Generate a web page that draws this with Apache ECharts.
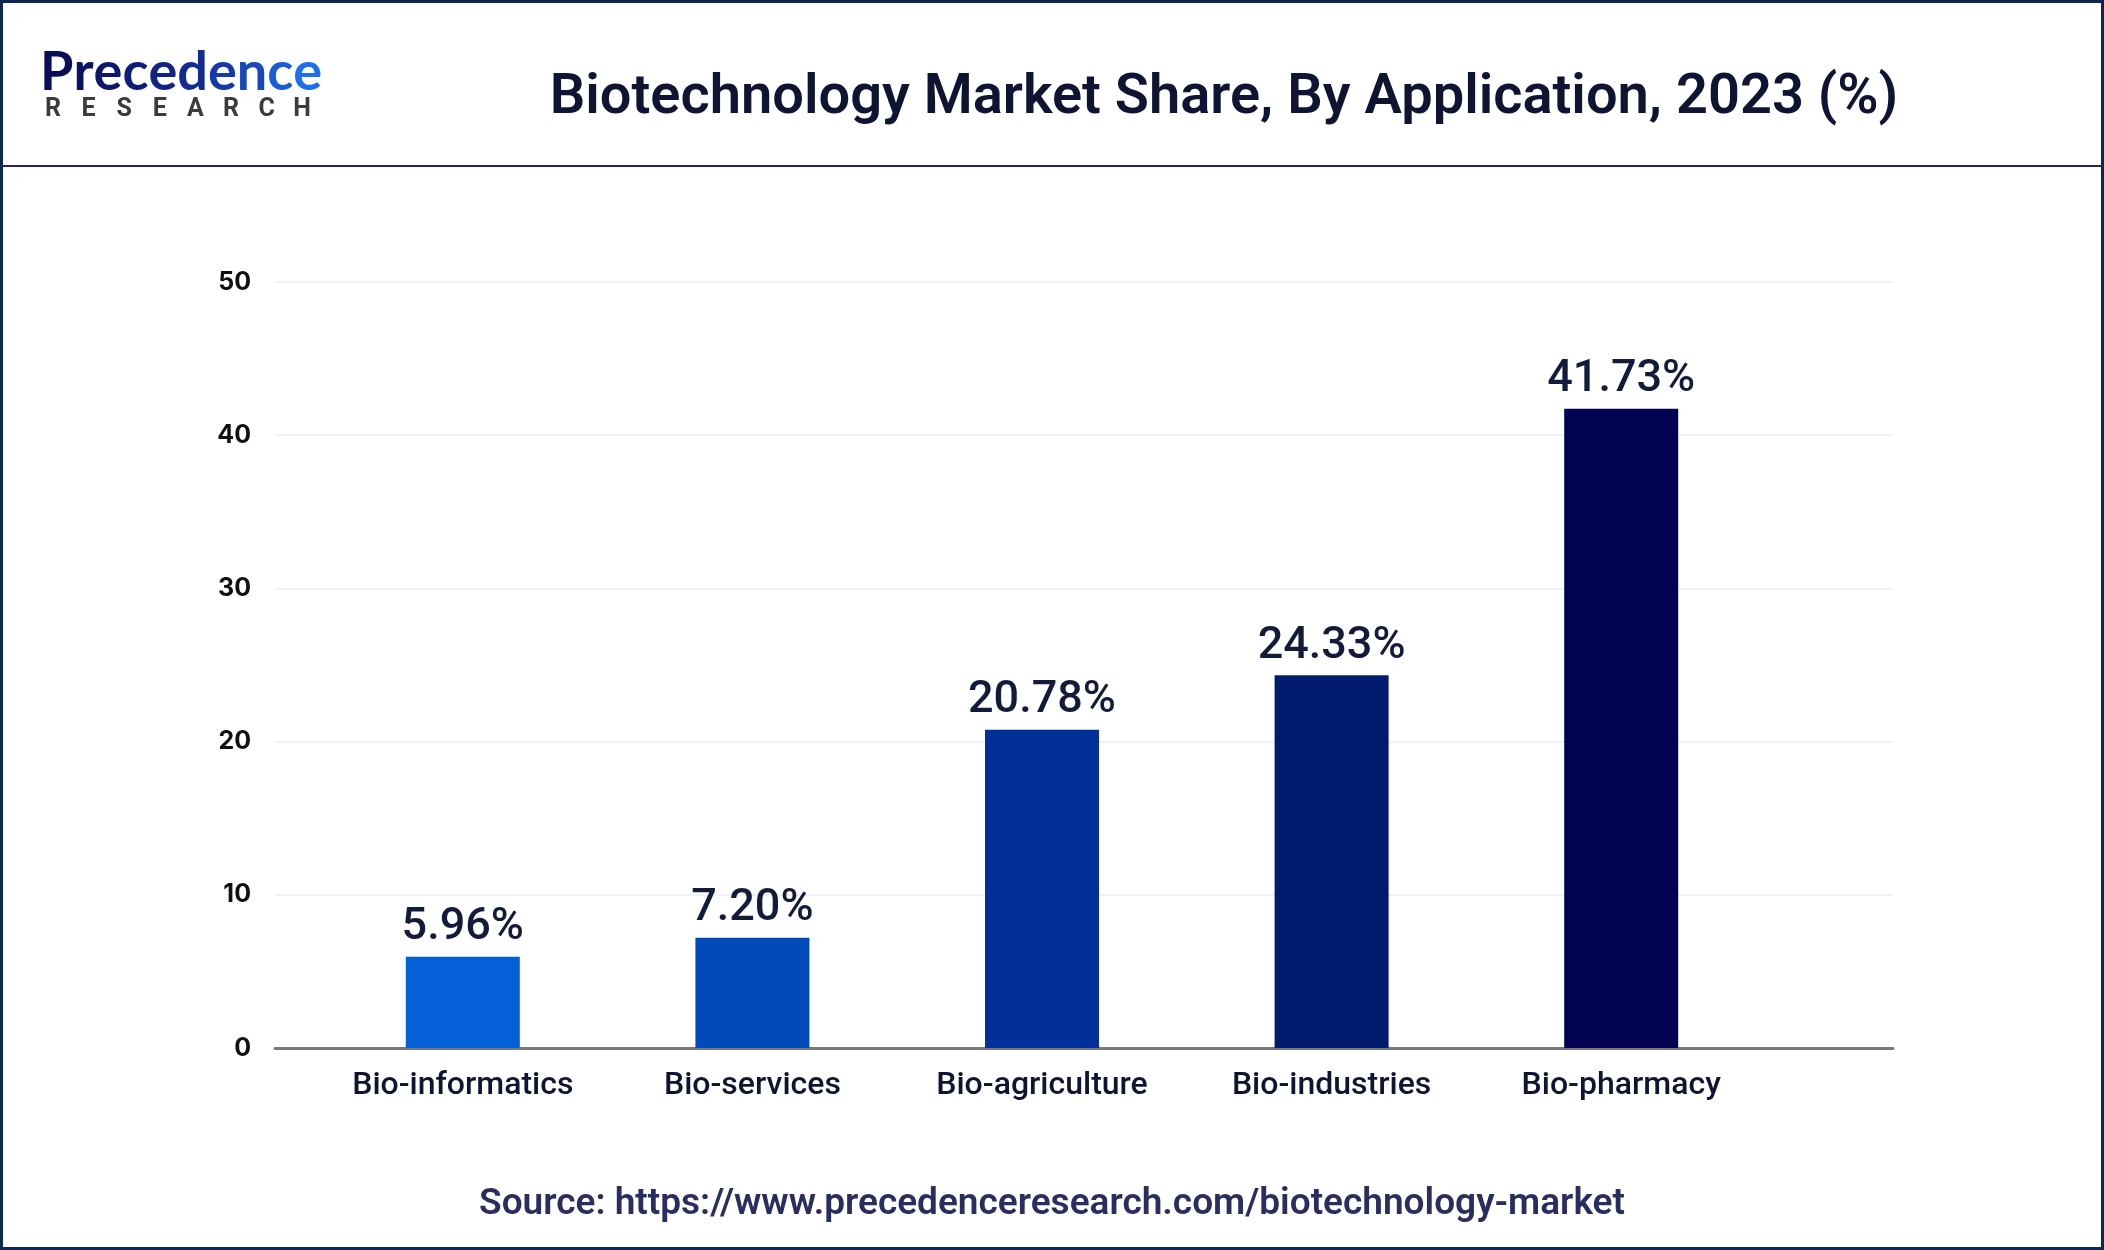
<!DOCTYPE html>
<html>
<head>
<meta charset="utf-8">
<script src="https://cdn.jsdelivr.net/npm/echarts@6/dist/echarts.min.js"></script>
<style>
html,body{margin:0;padding:0;background:#fff;}
#chart{width:2104px;height:1250px;}
</style>
</head>
<body>
<div id="chart"></div>
<script>
var categories = ['Bio-informatics', 'Bio-services', 'Bio-agriculture', 'Bio-industries', 'Bio-pharmacy'];
var shareValues = [5.96, 7.20, 20.78, 24.33, 41.73];
var barColors = ['#0360d6', '#0249b9', '#01309a', '#001b6e', '#010352'];
var yTicks = [0, 10, 20, 30, 40, 50];

var chart = echarts.init(document.getElementById('chart'), null, {renderer: 'canvas'});

var logoMain = 'Precedence';
var logoColors = ['#0a0e58', '#0c1262', '#0d176c', '#0f1d78', '#112485', '#132c94', '#1539a8', '#1749bd', '#1a5cd6', '#1e6eee'];
var logoRich = {};
var logoText = '';
for (var k = 0; k < logoMain.length; k++) {
  logoRich['c' + k] = {fill: logoColors[k], font: '700 54px Lato'};
  logoText += '{c' + k + '|' + logoMain[k] + '}';
}

var graphics = [
  {type: 'rect', z: 100, silent: true,
   shape: {x: 1.5, y: 1.5, width: 2101, height: 1247},
   style: {fill: 'none', stroke: '#0e2752', lineWidth: 3}},
  {type: 'rect', z: 100, silent: true,
   shape: {x: 0, y: 165, width: 2104, height: 2},
   style: {fill: '#1e2a50'}},
  {type: 'text', z: 100, x: 1224, y: 99, silent: true,
   style: {text: 'Biotechnology Market Share, By Application, 2023 (%)',
     fill: '#0f1433', font: '600 56px Roboto', textAlign: 'center', textVerticalAlign: 'middle'}},
  {type: 'text', z: 100, x: 1052, y: 1205, silent: true,
   style: {text: 'Source: https://www.precedenceresearch.com/biotechnology-market',
     fill: '#2a2d60', font: '600 37px Roboto', textAlign: 'center', textVerticalAlign: 'middle'}},
  {type: 'text', z: 100, x: 40, y: 73, silent: true,
   style: {text: logoText, rich: logoRich, fill: '#0a0e58', textAlign: 'left', textVerticalAlign: 'middle'}}
];
var logoWord = 'RESEARCH';
for (var i = 0; i < logoWord.length; i++) {
  graphics.push({type: 'text', z: 100, x: 53 + i * 35.6, y: 110, silent: true,
    style: {text: logoWord[i], font: '700 25px Roboto', fill: '#3b3b3b',
      textAlign: 'center', textVerticalAlign: 'middle'}});
}

var option = {
  backgroundColor: '#ffffff',
  animation: false,
  grid: [
    {left: 275, right: 211, top: 282, bottom: 202},
    {left: 318, right: 338, top: 282, bottom: 202}
  ],
  xAxis: [
    {
      gridIndex: 0, type: 'value', min: 0, max: 1,
      axisLine: {show: true, onZero: true, lineStyle: {color: '#787878', width: 3}},
      axisTick: {show: false}, axisLabel: {show: false}, splitLine: {show: false}
    },
    {
      gridIndex: 1, type: 'category', data: categories,
      axisLine: {show: false}, axisTick: {show: false},
      axisLabel: {
        margin: 22, color: '#0f1433', fontFamily: 'Roboto', fontWeight: 500, fontSize: 32
      }
    }
  ],
  yAxis: [
    {
      gridIndex: 0, type: 'value', min: yTicks[0], max: yTicks[yTicks.length - 1], interval: 10,
      axisLine: {show: false}, axisTick: {show: false},
      axisLabel: {margin: 24, color: '#111111', fontFamily: 'Inter', fontWeight: 700, fontSize: 25},
      splitLine: {show: true, lineStyle: {color: '#f2f2f2', width: 2}}
    },
    {
      gridIndex: 1, type: 'value', min: yTicks[0], max: yTicks[yTicks.length - 1], interval: 10,
      show: false
    }
  ],
  series: [
    {
      type: 'bar', xAxisIndex: 1, yAxisIndex: 1,
      barWidth: 114,
      data: shareValues.map(function (v, i) {
        return {value: v, itemStyle: {color: barColors[i]}};
      }),
      label: {
        show: true, position: 'top', distance: 6,
        color: '#141a3a', fontFamily: 'Roboto', fontWeight: 500, fontSize: 45,
        formatter: function (p) { return p.value.toFixed(2) + '%'; }
      }
    }
  ],
  graphic: graphics
};
chart.setOption(option);
</script>
</body>
</html>
